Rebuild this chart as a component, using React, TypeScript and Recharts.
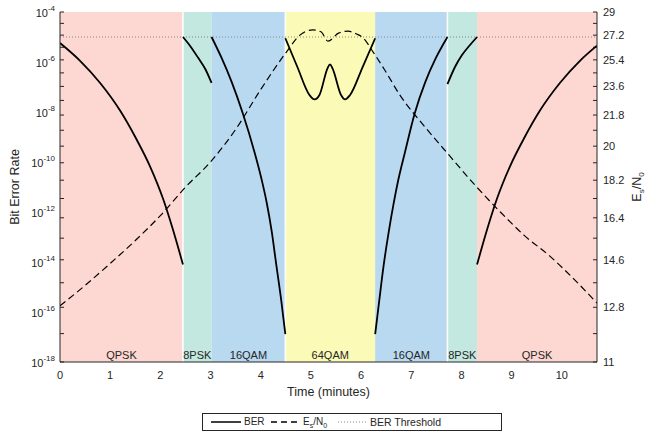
import { ComposedChart, Line, XAxis, YAxis, ReferenceArea, ReferenceLine } from 'recharts';

// time (minutes) -> bit error rate, one array per modulation segment
const BER_QPSK_1: [number, number][] = [
  [0, 5.75e-6], [0.4, 1.12e-6], [0.8, 1.45e-7], [1.2, 1.12e-8], [1.5, 1e-9],
  [1.8, 6.3e-11], [2.05, 3.55e-12], [2.25, 2.0e-13], [2.45, 7.9e-15],
];
const BER_8PSK_1: [number, number][] = [
  [2.45, 1e-5], [2.6, 4.2e-6], [2.75, 1.5e-6], [2.9, 5e-7], [3.02, 1.45e-7],
];
const BER_16QAM_1: [number, number][] = [
  [3.02, 1e-5], [3.22, 1.45e-6], [3.42, 1.6e-7], [3.64, 9.1e-9], [3.88, 2.3e-10],
  [4.02, 1.9e-11], [4.12, 2.3e-12], [4.22, 1.6e-13], [4.31, 7.6e-15], [4.41, 2.75e-16],
  [4.49, 1.3e-17],
];
const BER_64QAM: [number, number][] = [
  [4.49, 8.9e-6], [4.73, 6.3e-7], [4.97, 4.8e-8], [5.07, 3.2e-8], [5.17, 4.8e-8],
  [5.33, 5.6e-7], [5.38, 8.1e-7], [5.43, 5.6e-7], [5.6, 4.8e-8], [5.68, 3.2e-8],
  [5.78, 4.8e-8], [6.03, 6.3e-7], [6.28, 8.9e-6],
];
const BER_16QAM_2: [number, number][] = [
  [6.28, 1.3e-17], [6.36, 2.75e-16], [6.45, 7.6e-15], [6.55, 1.6e-13], [6.65, 2.3e-12],
  [6.74, 1.9e-11], [6.87, 2.3e-10], [7.07, 9.1e-9], [7.28, 1.6e-7], [7.49, 1.45e-6],
  [7.72, 1e-5],
];
const BER_8PSK_2: [number, number][] = [
  [7.72, 1.3e-7], [7.87, 6.3e-7], [8.01, 1.9e-6], [8.17, 4.8e-6], [8.31, 1e-5],
];
const BER_QPSK_2: [number, number][] = [
  [8.31, 7.9e-15], [8.51, 2.0e-13], [8.71, 3.55e-12], [8.96, 6.3e-11], [9.26, 1e-9],
  [9.56, 1.12e-8], [9.96, 1.45e-7], [10.36, 1.12e-6], [10.7, 4.5e-6],
];

// time (minutes) -> Es/N0
const ES_N0: [number, number][] = [
  [0, 12.85], [0.5, 13.6], [1.0, 14.45], [1.5, 15.4], [2.0, 16.5], [2.5, 17.85],
  [3.0, 19.15], [3.5, 20.95], [4.0, 23.4], [4.5, 25.9], [4.78, 27.2], [5.04, 27.6],
  [5.2, 27.45], [5.34, 26.75], [5.55, 27.35], [5.74, 27.5], [5.9, 27.3], [6.04, 27.0],
  [6.24, 25.95], [6.47, 24.7], [6.77, 23.05], [7.27, 21.1], [7.77, 19.45], [8.27, 17.95],
  [8.76, 16.7], [9.26, 15.6], [9.76, 14.75], [10.26, 13.8], [10.7, 12.95],
];

const BER_THRESHOLD = 1e-5;

const BAND_NAMES = ['QPSK', '8PSK', '16QAM', '64QAM', '16QAM', '8PSK', 'QPSK'];
const BAND_EDGES = [0, 2.45, 3.02, 4.49, 6.28, 7.72, 8.31, 10.7];
const BAND_GAPS = [2.45, 4.49, 7.72];

const X_TICKS = [0, 1, 2, 3, 4, 5, 6, 7, 8, 9, 10];
const BER_TICKS = [1e-18, 1e-16, 1e-14, 1e-12, 1e-10, 1e-8, 1e-6, 1e-4];
const ES_TICKS = [11, 12.8, 14.6, 16.4, 18.2, 20, 21.8, 23.6, 25.4, 27.2, 29];
const ES_MARKS = [
  11, 11.9, 12.8, 13.7, 14.6, 15.5, 16.4, 17.3, 18.2, 19.1, 20,
  20.9, 21.8, 22.7, 23.6, 24.5, 25.4, 26.3, 27.2, 28.1, 29,
];

const BER_SEGMENTS = [BER_QPSK_1, BER_8PSK_1, BER_16QAM_1, BER_64QAM, BER_16QAM_2, BER_8PSK_2, BER_QPSK_2];

const BAND_COLORS: Record<string, string> = {
  QPSK: '#fdd7d1',
  '8PSK': '#c3e8df',
  '16QAM': '#b9d9f1',
  '64QAM': '#fbfbb7',
};

const FONT = 'Arial, "Liberation Sans", Helvetica, sans-serif';
const INK = '#262626';

const BerTick = (props: any) => {
  const { x, y, payload } = props;
  const exp = Math.round(Math.log10(payload.value));
  return (
    <text x={x} y={y} textAnchor="end" fill={INK} fontSize={11}>
      <tspan dy={5}>10</tspan>
      <tspan dy={-6} fontSize={8}>{exp}</tspan>
    </text>
  );
};

const EsLabel = (props: any) => {
  const { viewBox } = props;
  const cx = viewBox.x + 40;
  const cy = viewBox.y + viewBox.height / 2;
  return (
    <text transform={`rotate(-90 ${cx} ${cy})`} x={cx} y={cy} dy={4} textAnchor="middle" fill={INK} fontSize={12.5}>
      E<tspan dy={3} fontSize={8}>s</tspan>
      <tspan dy={-3}>/N</tspan>
      <tspan dy={3} fontSize={8}>0</tspan>
    </text>
  );
};

function LegendBox() {
  const item = (left: number, dash: string | undefined, color: string) => (
    <svg style={{ position: 'absolute', left, top: 5 }} width={30} height={6}>
      <line x1={0} y1={3} x2={30} y2={3} stroke={color} strokeWidth={dash === '1 2' ? 1 : 1.5} strokeDasharray={dash} />
    </svg>
  );
  const text = { position: 'absolute' as const, top: 2, lineHeight: '12px' };
  return (
    <div
      style={{
        position: 'absolute', left: 202, top: 413, width: 298, height: 16,
        border: `1px solid ${INK}`, background: '#fff', fontSize: 10, fontFamily: FONT, color: INK,
      }}
    >
      {item(8, undefined, '#000')}
      <span style={{ ...text, left: 41 }}>BER</span>
      {item(68, '6 4', '#000')}
      <span style={{ ...text, left: 100 }}>
        E<sub style={{ fontSize: 7 }}>s</sub>/N<sub style={{ fontSize: 7 }}>0</sub>
      </span>
      {item(135, '1 2', '#888')}
      <span style={{ ...text, left: 167, fontSize: 10.5 }}>BER Threshold</span>
    </div>
  );
}

export default function App() {
  return (
    <div style={{ position: 'absolute', left: 0, top: 0, width: 650, height: 439, fontFamily: FONT, background: '#fff' }}>
      <ComposedChart width={650} height={439} margin={{ top: 12, right: 0, bottom: 0, left: 0 }}>
        {BAND_NAMES.map((name, i) => (
          <ReferenceArea
            key={`band-${i}`}
            yAxisId="ber"
            x1={BAND_EDGES[i]}
            x2={BAND_EDGES[i + 1]}
            fill={BAND_COLORS[name]}
            fillOpacity={1}
            stroke="none"
            label={{ value: name, position: 'insideBottom', offset: 3, fontSize: 11, fill: INK }}
          />
        ))}
        {BAND_GAPS.map((x) => (
          <ReferenceLine key={`gap-${x}`} yAxisId="ber" x={x} stroke="#fff" strokeWidth={1.5} />
        ))}
        <XAxis
          dataKey="t"
          type="number"
          domain={[0, 10.7]}
          ticks={X_TICKS}
          allowDataOverflow
          height={77}
          tickLine={false}
          tickSize={0}
          tickMargin={9}
          tick={{ fontSize: 11, fill: INK }}
          axisLine={{ stroke: INK }}
          label={{ value: 'Time (minutes)', position: 'insideTop', offset: 25, fontSize: 12.5, fill: INK }}
        />
        <YAxis
          yAxisId="ber"
          scale="log"
          domain={[1e-18, 1e-4]}
          ticks={BER_TICKS}
          allowDataOverflow
          width={60}
          tickLine={false}
          tickSize={0}
          tickMargin={5}
          tick={<BerTick />}
          axisLine={{ stroke: INK }}
          label={{ value: 'Bit Error Rate', angle: -90, position: 'insideLeft', offset: 15, fontSize: 12.5, fill: INK, style: { textAnchor: 'middle' } }}
        />
        <YAxis
          yAxisId="es"
          orientation="right"
          scale="log"
          domain={[11, 29]}
          ticks={ES_TICKS}
          allowDataOverflow
          width={53}
          tickLine={false}
          tickSize={0}
          tickMargin={6}
          tick={{ fontSize: 11, fill: INK }}
          axisLine={{ stroke: INK }}
          label={<EsLabel />}
        />
        <ReferenceLine yAxisId="ber" y={BER_THRESHOLD} stroke="#888" strokeDasharray="1 2" />
        {ES_MARKS.map((v) => (
          <ReferenceLine key={`ml-${v}`} yAxisId="es" segment={[{ x: 0, y: v }, { x: 0.08, y: v }]} stroke={INK} />
        ))}
        {ES_MARKS.map((v) => (
          <ReferenceLine key={`mr-${v}`} yAxisId="es" segment={[{ x: 10.62, y: v }, { x: 10.7, y: v }]} stroke={INK} />
        ))}
        {BER_SEGMENTS.map((seg, i) => (
          <Line
            key={`ber-${i}`}
            yAxisId="ber"
            data={seg.map(([t, ber]) => ({ t, ber }))}
            dataKey="ber"
            type="monotone"
            stroke="#000"
            strokeWidth={1.8}
            dot={false}
            isAnimationActive={false}
          />
        ))}
        <Line
          yAxisId="es"
          data={ES_N0.map(([t, es]) => ({ t, es }))}
          dataKey="es"
          type="monotone"
          stroke="#000"
          strokeWidth={1.2}
          strokeDasharray="7 4"
          dot={false}
          isAnimationActive={false}
        />
      </ComposedChart>
      <LegendBox />
    </div>
  );
}
